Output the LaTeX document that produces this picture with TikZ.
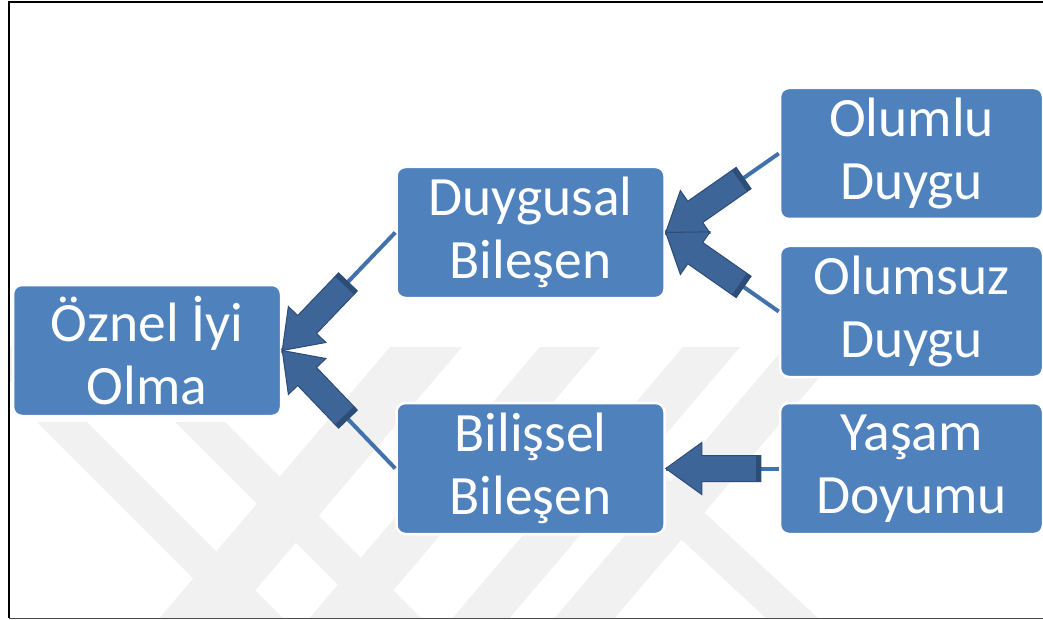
\documentclass[tikz,border=0pt]{standalone}
\usepackage{fontspec}
\setmainfont{Carlito}
\usetikzlibrary{calc}
\definecolor{boxblue}{HTML}{4F81BD}
\definecolor{arrfill}{HTML}{3D6597}
\definecolor{arredge}{HTML}{2D4D76}
\definecolor{linkblue}{HTML}{4272AC}
\definecolor{wm}{HTML}{F1F1F1}
\tikzset{
  box/.style={draw=white, line width=2.5pt, fill=boxblue, rounded corners=9pt,
    minimum width=268pt, minimum height=131pt, inner sep=0pt, align=center,
    text=white, font=\fontsize{55.5}{63}\selectfont},
  link/.style={draw=linkblue, line width=4pt},
  barrow/.style={fill=arrfill, draw=arredge, line width=1pt, line join=miter},
  bcap/.style={draw=arredge, line width=5pt},
  wmband/.style={fill=wm, draw=none},
}
\newcommand\blkarrow[2]{%
  \path (#2) coordinate (ba-t) ($(#2)!95pt!(#1)$) coordinate (ba-q)
        ($(#2)!92.5pt!(#1)$) coordinate (ba-c) ($(#2)!36pt!(#1)$) coordinate (ba-h);
  \filldraw[barrow] ($(ba-q)!13pt!90:(#1)$) -- ($(ba-h)!13pt!90:(#1)$)
     -- ($(ba-h)!26pt!90:(#1)$) -- (ba-t) -- ($(ba-h)!26pt!-90:(#1)$)
     -- ($(ba-h)!13pt!-90:(#1)$) -- ($(ba-q)!13pt!-90:(#1)$) -- cycle;
  \draw[bcap] ($(ba-c)!13pt!90:(#1)$) -- ($(ba-c)!13pt!-90:(#1)$);
}
\begin{document}
\begin{tikzpicture}[x=1pt, y=-1pt]
  \useasboundingbox (0,0) rectangle (1043,620);
  \fill[white] (0,0) rectangle (1043,620);
  % watermark
  \begin{scope}
    \clip (10,3) rectangle (1043,617);
    \fill[wmband] (3,347) -- (46,347) -- (-229,620) -- (-186,620) -- cycle;
    \fill[wmband] (390,347) -- (462,347) -- (230,620) -- (158,620) -- cycle;
    \fill[wmband] (540,347) -- (600,347) -- (368,620) -- (308,620) -- cycle;
    \fill[wmband] (683,347) -- (740,347) -- (508,620) -- (451,620) -- cycle;
    \fill[wmband] (785,347) -- (845,347) -- (613,620) -- (553,620) -- cycle;
    \fill[wmband] (37,422) -- (87,422) -- (285,620) -- (235,620) -- cycle;
    \fill[wmband] (175,422) -- (225,422) -- (423,620) -- (373,620) -- cycle;
    \fill[wmband] (585,450) -- (637,450) -- (820,620) -- (768,620) -- cycle;
  \end{scope}
  % frame
  \draw[black!70, line width=0.8pt] (9,618) -- (1043,618);
  \draw[black, line width=1.2pt] (9,618) -- (9,2) -- (1043,2);
  % nodes
  \node[box] (ozn) at (147,350.5) {Öznel İyi\\Olma};
  \node[box] (duy) at (530.5,232.5) {Duygusal\\Bileşen};
  \node[box] (bil) at (530.5,468.5) {Bilişsel\\Bileşen};
  \node[box, minimum width=263pt] (olu) at (911.5,153.5) {Olumlu\\Duygu};
  \node[box, minimum width=263pt] (olm) at (911.5,311.5) {Olumsuz\\Duygu};
  \node[box, minimum width=263pt] (yas) at (911.5,468.5) {Yaşam\\Doyumu};
  % connectors
  \draw[link] (duy.west) -- (ozn.east);
  \draw[link] (bil.west) -- (ozn.east);
  \draw[link] (olu.west) -- (duy.east);
  \draw[link] (olm.west) -- (duy.east);
  \draw[link] (yas.west) -- (bil.east);
  \blkarrow{duy.west}{ozn.east}
  \blkarrow{bil.west}{ozn.east}
  \blkarrow{olu.west}{duy.east}
  \blkarrow{olm.west}{duy.east}
  \blkarrow{yas.west}{bil.east}
\end{tikzpicture}
\end{document}
